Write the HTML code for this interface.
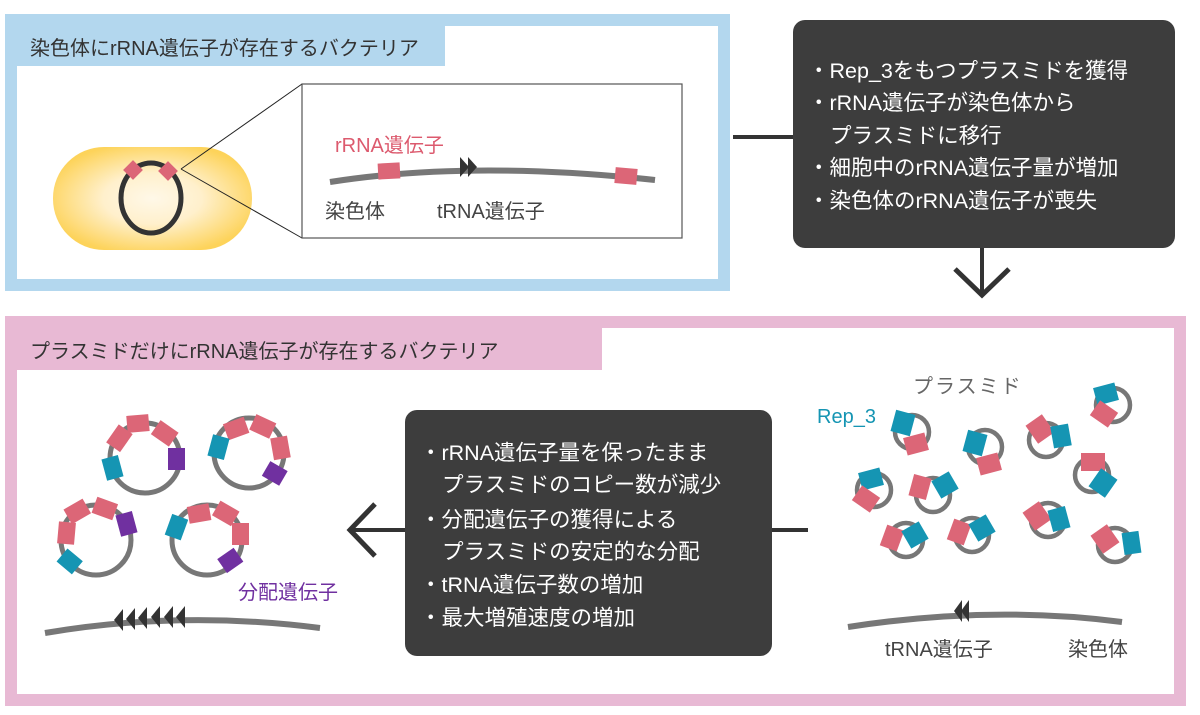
<!DOCTYPE html>
<html><head><meta charset="utf-8"><style>
html,body{margin:0;padding:0;background:#fff}
svg{display:block}
text{font-family:"Liberation Sans","Noto Sans CJK JP",sans-serif}
</style></head><body>
<svg width="1200" height="715" viewBox="0 0 1200 715" xmlns="http://www.w3.org/2000/svg">
<defs>
<radialGradient id="cell" cx="50%" cy="50%" r="55%">
<stop offset="0" stop-color="#fff8e8"/><stop offset="0.45" stop-color="#fff0cc"/><stop offset="1" stop-color="#fdd35a"/>
</radialGradient>
</defs>
<!-- top panel -->
<rect x="11" y="20" width="713" height="265" fill="#fff" stroke="#b3d7ee" stroke-width="12"/>
<rect x="17" y="26" width="428" height="40" fill="#b3d7ee"/>
<text x="30" y="55" font-size="20" fill="#333">染色体にrRNA遺伝子が存在するバクテリア</text>
<rect x="53" y="147" width="199" height="103" rx="51" fill="url(#cell)"/>
<ellipse cx="151" cy="198" rx="30" ry="35" fill="none" stroke="#333" stroke-width="5"/>
<rect x="126" y="163" width="14" height="14" fill="#dc6677" transform="rotate(45 133 170)"/>
<rect x="161" y="164" width="14" height="14" fill="#dc6677" transform="rotate(45 168 171)"/>
<line x1="181" y1="169" x2="302" y2="84" stroke="#222" stroke-width="1"/>
<line x1="181" y1="169" x2="302" y2="238" stroke="#222" stroke-width="1"/>
<rect x="302" y="84" width="380" height="154" fill="#fff" stroke="#555" stroke-width="1.2"/>
<text x="335" y="152" font-size="20" fill="#dc5a6e">rRNA遺伝子</text>
<path d="M330 182 Q470 160 655 180" fill="none" stroke="#777" stroke-width="6"/>
<rect x="378" y="163" width="22" height="16" fill="#dc6677" transform="rotate(-3 389 171)"/>
<polygon points="460,157 469,167 460,177" fill="#333"/><polygon points="468,157 477,167 468,177" fill="#333"/>
<rect x="615" y="168" width="22" height="16" fill="#dc6677" transform="rotate(5 626 176)"/>
<text x="325" y="218" font-size="20" fill="#444">染色体</text>
<text x="437" y="218" font-size="20" fill="#444">tRNA遺伝子</text>
<!-- connector top -->
<line x1="733" y1="137" x2="794" y2="137" stroke="#333" stroke-width="4"/>
<rect x="793" y="20" width="382" height="228" rx="12" fill="#3d3d3d"/>
<g font-size="21.5" fill="#fff">
<text x="808" y="78">・Rep_3をもつプラスミドを獲得</text>
<text x="808" y="110">・rRNA遺伝子が染色体から</text>
<text x="830" y="143">プラスミドに移行</text>
<text x="808" y="175">・細胞中のrRNA遺伝子量が増加</text>
<text x="808" y="208">・染色体のrRNA遺伝子が喪失</text>
</g>
<line x1="982" y1="248" x2="982" y2="293" stroke="#333" stroke-width="4"/>
<polyline points="955,269 982,295 1009,269" fill="none" stroke="#333" stroke-width="5"/>
<!-- bottom panel -->
<rect x="11" y="322" width="1169" height="378" fill="#fff" stroke="#e8b9d4" stroke-width="12"/>
<rect x="17" y="328" width="585" height="42" fill="#e8b9d4"/>
<text x="30" y="358" font-size="20" fill="#333">プラスミドだけにrRNA遺伝子が存在するバクテリア</text>
<!-- left plasmids -->
<g stroke="#777" stroke-width="5" fill="none">
<circle cx="145" cy="458" r="35"/><circle cx="249" cy="453" r="35"/>
<circle cx="96" cy="540" r="35"/><circle cx="207" cy="540" r="35"/>
</g>
<g>
<rect x="127" y="415" width="22" height="17" fill="#dc6677" transform="rotate(-5 138 424)"/>
<rect x="108" y="430" width="22" height="17" fill="#dc6677" transform="rotate(-55 119 438)"/>
<rect x="154" y="425" width="22" height="17" fill="#dc6677" transform="rotate(35 165 433)"/>
<rect x="104" y="457" width="17" height="22" fill="#1595b3" transform="rotate(-15 112 468)"/>
<rect x="168" y="448" width="17" height="22" fill="#7030a0"/>
<rect x="225" y="420" width="22" height="17" fill="#dc6677" transform="rotate(-20 236 428)"/>
<rect x="252" y="418" width="22" height="17" fill="#dc6677" transform="rotate(25 263 426)"/>
<rect x="272" y="437" width="17" height="22" fill="#dc6677" transform="rotate(-10 280 448)"/>
<rect x="210" y="436" width="17" height="22" fill="#1595b3" transform="rotate(15 218 447)"/>
<rect x="265" y="465" width="20" height="17" fill="#7030a0" transform="rotate(30 275 473)"/>
<rect x="66" y="503" width="22" height="17" fill="#dc6677" transform="rotate(-30 77 511)"/>
<rect x="94" y="500" width="22" height="17" fill="#dc6677" transform="rotate(20 105 508)"/>
<rect x="58" y="522" width="17" height="22" fill="#dc6677" transform="rotate(5 66 533)"/>
<rect x="118" y="513" width="17" height="22" fill="#7030a0" transform="rotate(-15 126 524)"/>
<rect x="60" y="553" width="20" height="17" fill="#1595b3" transform="rotate(40 70 561)"/>
<rect x="188" y="505" width="22" height="17" fill="#dc6677" transform="rotate(-10 199 513)"/>
<rect x="215" y="505" width="22" height="17" fill="#dc6677" transform="rotate(30 226 513)"/>
<rect x="232" y="523" width="17" height="22" fill="#dc6677"/>
<rect x="168" y="516" width="17" height="22" fill="#1595b3" transform="rotate(20 176 527)"/>
<rect x="220" y="552" width="20" height="17" fill="#7030a0" transform="rotate(-35 230 560)"/>
</g>
<text x="238" y="599" font-size="20" fill="#7030a0">分配遺伝子</text>
<path d="M45 633 Q180 610 320 628" fill="none" stroke="#777" stroke-width="6"/>
<g fill="#333">
<polygon points="114,620 123,609 123,631"/><polygon points="126,619 135,608 135,630"/><polygon points="138,618 147,607 147,629"/>
<polygon points="151,617 160,606 160,628"/><polygon points="164,617 173,606 173,628"/><polygon points="176,617 185,606 185,628"/>
</g>
<!-- arrows & center box -->
<line x1="352" y1="530" x2="406" y2="530" stroke="#333" stroke-width="4"/>
<polyline points="375,504 350,530 375,556" fill="none" stroke="#333" stroke-width="5"/>
<line x1="771" y1="530" x2="808" y2="530" stroke="#333" stroke-width="4"/>
<rect x="405" y="410" width="367" height="246" rx="12" fill="#3d3d3d"/>
<g font-size="21.5" fill="#fff">
<text x="420" y="460">・rRNA遺伝子量を保ったまま</text>
<text x="442" y="492">プラスミドのコピー数が減少</text>
<text x="420" y="527">・分配遺伝子の獲得による</text>
<text x="442" y="559">プラスミドの安定的な分配</text>
<text x="420" y="592">・tRNA遺伝子数の増加</text>
<text x="420" y="625">・最大増殖速度の増加</text>
</g>
<!-- right plasmids -->
<text x="913" y="393" font-size="20" fill="#666" letter-spacing="2">プラスミド</text>
<text x="817" y="423" font-size="20" fill="#1595b3">Rep_3</text>
<g stroke="#777" stroke-width="4.5" fill="none">
<circle cx="912" cy="432" r="17"/><circle cx="985" cy="447" r="17"/><circle cx="1046" cy="440" r="17"/><circle cx="1113" cy="405" r="17"/>
<circle cx="874" cy="490" r="17"/><circle cx="933" cy="495" r="17"/><circle cx="1092" cy="475" r="17"/>
<circle cx="906" cy="540" r="17"/><circle cx="972" cy="535" r="17"/><circle cx="1048" cy="520" r="17"/><circle cx="1115" cy="545" r="17"/>
</g>
<g>
<rect x="893" y="412" width="20" height="22" fill="#1595b3" transform="rotate(15 903 423)"/><rect x="905" y="435" width="22" height="18" fill="#dc6677" transform="rotate(-15 916 444)"/>
<rect x="965" y="432" width="20" height="22" fill="#1595b3" transform="rotate(15 975 443)"/><rect x="978" y="455" width="22" height="18" fill="#dc6677" transform="rotate(-15 989 464)"/>
<rect x="1030" y="418" width="20" height="22" fill="#dc6677" transform="rotate(-35 1040 429)"/><rect x="1052" y="425" width="18" height="22" fill="#1595b3" transform="rotate(-10 1061 436)"/>
<rect x="1095" y="385" width="22" height="18" fill="#1595b3" transform="rotate(-15 1106 394)"/><rect x="1093" y="405" width="22" height="18" fill="#dc6677" transform="rotate(35 1104 414)"/>
<rect x="860" y="470" width="22" height="18" fill="#1595b3" transform="rotate(-15 871 479)"/><rect x="855" y="490" width="22" height="18" fill="#dc6677" transform="rotate(35 866 499)"/>
<rect x="911" y="476" width="18" height="22" fill="#dc6677" transform="rotate(15 920 487)"/><rect x="935" y="475" width="20" height="20" fill="#1595b3" transform="rotate(-30 945 485)"/>
<rect x="1081" y="453" width="24" height="18" fill="#dc6677"/><rect x="1093" y="472" width="20" height="22" fill="#1595b3" transform="rotate(35 1103 483)"/>
<rect x="883" y="527" width="18" height="22" fill="#dc6677" transform="rotate(20 892 538)"/><rect x="905" y="525" width="20" height="20" fill="#1595b3" transform="rotate(-30 915 535)"/>
<rect x="950" y="521" width="18" height="22" fill="#dc6677" transform="rotate(20 959 532)"/><rect x="972" y="518" width="20" height="20" fill="#1595b3" transform="rotate(-30 982 528)"/>
<rect x="1027" y="505" width="20" height="22" fill="#dc6677" transform="rotate(-35 1037 516)"/><rect x="1050" y="508" width="18" height="22" fill="#1595b3" transform="rotate(-15 1059 519)"/>
<rect x="1095" y="528" width="20" height="22" fill="#dc6677" transform="rotate(-35 1105 539)"/><rect x="1123" y="532" width="17" height="22" fill="#1595b3" transform="rotate(-8 1131 543)"/>
</g>
<path d="M848 627 Q990 605 1122 622" fill="none" stroke="#777" stroke-width="6"/>
<g fill="#333"><polygon points="954,611 962,600 962,622"/><polygon points="961,611 969,600 969,622"/></g>
<text x="885" y="656" font-size="20" fill="#444">tRNA遺伝子</text>
<text x="1068" y="656" font-size="20" fill="#444">染色体</text>
</svg>
</body></html>
